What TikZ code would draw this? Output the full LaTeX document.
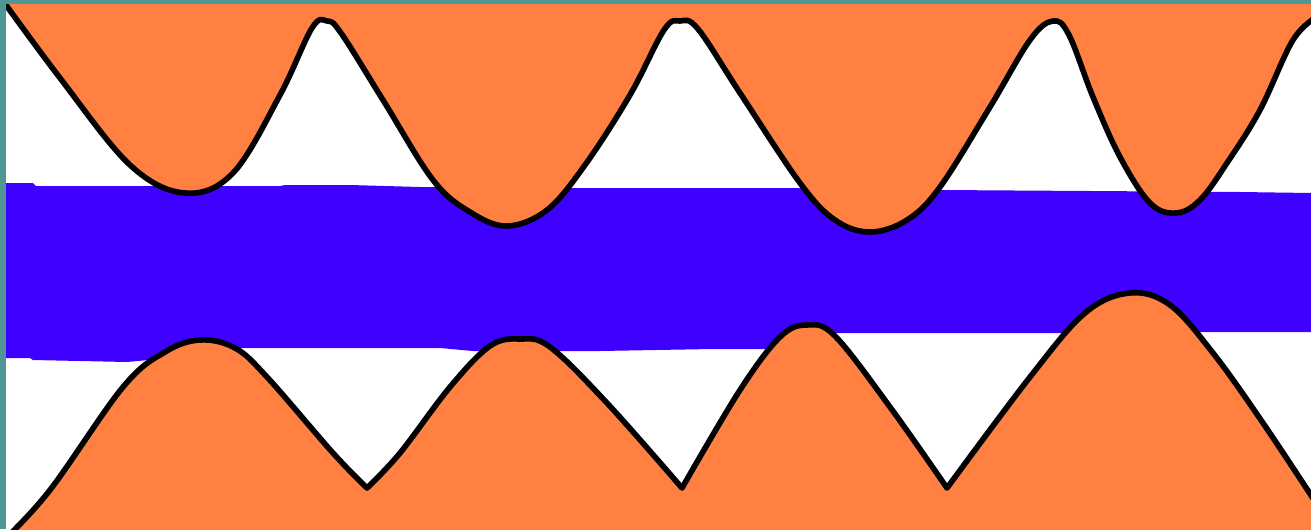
\documentclass[tikz,border=0pt]{standalone}
\definecolor{teal0}{RGB}{80,150,150}
\definecolor{orng}{RGB}{255,128,64}
\definecolor{blu}{RGB}{62,0,255}
\tikzset{
  edge/.style={draw=black, line width=4.2pt, line join=round, line cap=round},
  sm/.style={smooth,tension=0.6},
}
\begin{document}
\begin{tikzpicture}[x=0.75pt,y=-0.75pt]
\useasboundingbox (0,0) rectangle (1311,529);
\fill[white] (0,0) rectangle (1311,529);
% blue band
\fill[blu] (6,183) -- (33,183) -- (36,186) -- (280,186) -- (285,185) -- (350,185) -- (420,187) -- (560,188) -- (800,188) -- (940,190) -- (1090,191) -- (1240,192) -- (1311,193)
  -- (1311,332) -- (1150,332) -- (1100,333) -- (833,333) -- (820,349) -- (713,349) -- (600,351) -- (473,351) -- (440,348) -- (220,348) -- (200,355) -- (127,362) -- (33,360) -- (30,358) -- (6,358) -- cycle;
% top orange
\fill[orng] (-10,-10) -- plot[sm] coordinates {(-2,-6) (60,78) (130,165) (185,193) (233,173) (280,95) (312,28) (327,21) (341,33) (383,100) (433,180) (470,212) (507,226) (547,210) (585,165) (630,95) (664,30) (680,21) (698,29) (740,93) (800,183) (835,220) (870,232) (907,220) (940,187) (990,107) (1030,40) (1053,21) (1069,35) (1093,97) (1120,157) (1150,203) (1176,213) (1200,200) (1227,163) (1260,110) (1293,40) (1318,16)} -- (1320,-10) -- cycle;
\draw[edge] plot[sm] coordinates {(-2,-6) (60,78) (130,165) (185,193) (233,173) (280,95) (312,28) (327,21) (341,33) (383,100) (433,180) (470,212) (507,226) (547,210) (585,165) (630,95) (664,30) (680,21) (698,29) (740,93) (800,183) (835,220) (870,232) (907,220) (940,187) (990,107) (1030,40) (1053,21) (1069,35) (1093,97) (1120,157) (1150,203) (1176,213) (1200,200) (1227,163) (1260,110) (1293,40) (1318,16)};
% bottom orange
\fill[orng] (-10,540)
  -- plot[sm] coordinates {(4,540) (50,490) (123,387) (165,352) (200,340) (235,348) (267,377) (333,453) (367,488)}
  -- plot[sm] coordinates {(367,488) (400,453) (450,387) (490,346) (520,339) (550,347) (607,403) (682,488)}
  -- plot[sm] coordinates {(682,488) (740,390) (780,337) (807,325) (835,336) (890,407) (947,488)}
  -- plot[sm] coordinates {(947,488) (1030,377) (1085,313) (1130,293) (1170,305) (1213,353) (1263,423) (1322,512)}
  -- (1322,540) -- cycle;
\draw[edge] plot[sm] coordinates {(4,540) (50,490) (123,387) (165,352) (200,340) (235,348) (267,377) (333,453) (367,488)}
  -- plot[sm] coordinates {(367,488) (400,453) (450,387) (490,346) (520,339) (550,347) (607,403) (682,488)}
  -- plot[sm] coordinates {(682,488) (740,390) (780,337) (807,325) (835,336) (890,407) (947,488)}
  -- plot[sm] coordinates {(947,488) (1030,377) (1085,313) (1130,293) (1170,305) (1213,353) (1263,423) (1322,512)};
% teal frame
\fill[teal0] (0,0) rectangle (1311,4);
\fill[teal0] (0,0) rectangle (6,529);
\end{tikzpicture}
\end{document}
